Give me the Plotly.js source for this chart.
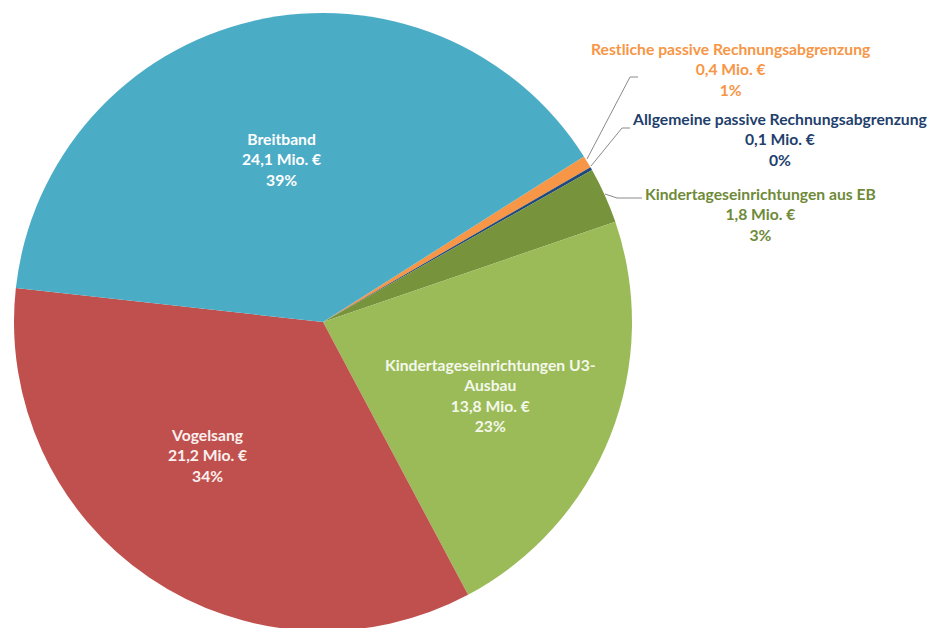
<!DOCTYPE html>
<html><head><meta charset="utf-8">
<script src="https://cdn.plot.ly/plotly-3.0.1.min.js"></script>
<style>html,body{margin:0;padding:0;overflow:hidden;background:#fff}#chart{width:930px;height:632px}</style>
</head><body><div id="chart"></div>
<script>
// Data (clockwise order, starting just after Breitband)
const categories = ["Restliche passive Rechnungsabgrenzung","Allgemeine passive Rechnungsabgrenzung","Kindertageseinrichtungen aus EB","Kindertageseinrichtungen U3-Ausbau","Vogelsang","Breitband"];
const categoryLabels = ["Restliche passive Rechnungsabgrenzung","Allgemeine passive Rechnungsabgrenzung","Kindertageseinrichtungen aus EB","Kindertageseinrichtungen U3-<br>Ausbau","Vogelsang","Breitband"];
const values = [0.4, 0.1, 1.8, 13.8, 21.2, 24.1];
const percentLabels = ["1%","0%","3%","23%","34%","39%"];
const sliceColors = ["#f79646","#1f497d","#77933c","#9bbb59","#c0504d","#4bacc6"];
const labelColors = ["#f79646","#1f3f6d","#6f8a38","#f4f8ea","#fbf0ef","#ffffff"];

const W = 930, H = 632;
const cx = 323, cy = 322, R = 309;
// label centres (pixels)
const labelPos = [[731,69],[780,140],[760,214],[490,395],[207,455],[281,159]];
const leaders = [
  [[587,159],[630,77],[638,77]],
  [[591,166],[622,128],[630,128]],
  [[605,194],[617,198],[642,198]]
];
const px = (x,y)=>[x/W,(H-y)/H];
const fmt = v => v.toFixed(1).replace('.',',') + ' Mio. €';

const trace = {
  type:'pie', values: values, labels: categories, sort:false, direction:'clockwise',
  rotation: 57.6, textinfo:'none', hoverinfo:'label+value+percent',
  marker:{colors: sliceColors, line:{width:0}},
  domain:{x:[(cx-R)/W,(cx+R)/W], y:[(H-cy-R)/H,(H-cy+R)/H]},
  showlegend:false
};
const annotations = categories.map((c,i)=>{
  const p = px(labelPos[i][0], labelPos[i][1]);
  return {xref:'paper',yref:'paper',x:p[0],y:p[1],xanchor:'center',yanchor:'middle',showarrow:false,align:'center',
    text:'<b>'+categoryLabels[i]+'<br>'+fmt(values[i])+'<br>'+percentLabels[i]+'</b>',
    font:{family:'Lato, Carlito, sans-serif',size:15.7,color:labelColors[i]}};
});
const shapes = leaders.map(pts=>{
  const d = pts.map((q,k)=>{const p=px(q[0],q[1]);return (k?'L':'M')+p[0]+','+p[1];}).join(' ');
  return {type:'path',xref:'paper',yref:'paper',path:d,line:{color:'#8a8a8a',width:1}};
});
Plotly.newPlot('chart',[trace],{width:W,height:H,margin:{l:0,r:0,t:0,b:0},paper_bgcolor:'#fff',annotations:annotations,shapes:shapes},{displayModeBar:false,staticPlot:true});
</script></body></html>
